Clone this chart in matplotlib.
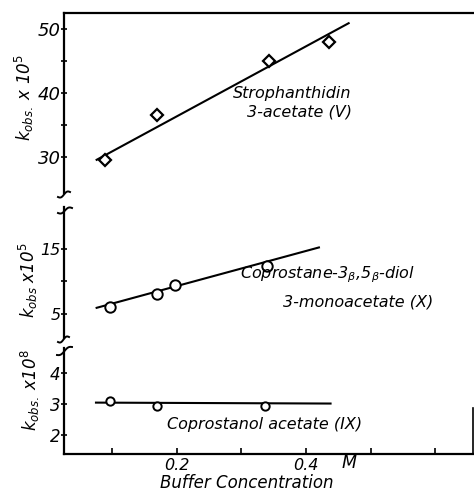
import numpy as np
import matplotlib
matplotlib.use("Agg")
import matplotlib.pyplot as plt
from matplotlib.lines import Line2D

plt.rcParams['font.family'] = ['DejaVu Sans']
plt.rcParams['mathtext.fontset'] = 'dejavusans'

# ---- data ----
# Strophanthidin 3-acetate (V), k_obs x 10^5
conc_V = [0.089, 0.170, 0.342, 0.436]
k_V = [29.4, 36.5, 45.0, 47.9]
fit_V_x = [0.076, 0.466]
fit_V_y = [29.5, 50.9]

# Coprostane-3b,5b-diol 3-monoacetate (X), k_obs x 10^5
conc_X = [0.096, 0.170, 0.197, 0.340]
k_X = [6.1, 8.1, 9.4, 12.4]
fit_X_x = [0.076, 0.420]
fit_X_y = [5.9, 15.3]

# Coprostanol acetate (IX), k_obs x 10^8
conc_IX = [0.096, 0.169, 0.337]
k_IX = [3.1, 2.92, 2.92]
fit_IX_x = [0.075, 0.438]
fit_IX_y = [3.04, 3.01]

x_ticks = [0.1, 0.2, 0.3, 0.4, 0.5, 0.6]
x_ticklabels = ['', '0.2', '', '0.4', '', '']
top_ticks = [30, 35, 40, 45, 50]
top_ticklabels = ['30', '', '40', '', '50']
mid_ticks = [5, 10, 15]
mid_ticklabels = ['5', '', '15']
bot_ticks = [2, 3, 4]
bot_ticklabels = ['2', '3', '4']

W, H = 474, 491
fig = plt.figure(figsize=(W / 100, H / 100), dpi=100)


def fr(x0, y_top, y_bot):
    return [x0 / W, 1 - y_bot / H, (W - x0) / W, (y_bot - y_top) / H]


XL = (0.0255, 0.660)
ax1 = fig.add_axes(fr(64, 13, 193))
ax2 = fig.add_axes(fr(64, 207, 338))
ax3 = fig.add_axes(fr(64, 348, 453.5))

for ax in (ax1, ax2, ax3):
    ax.set_xlim(*XL)
    ax.patch.set_alpha(0)
    for s in ('right', 'bottom', 'top'):
        ax.spines[s].set_visible(False)
    ax.spines['left'].set_linewidth(1.6)
    ax.tick_params(axis='y', direction='inout', length=5, width=1.2, pad=0)

ax1.spines['top'].set_visible(True)
ax1.spines['top'].set_linewidth(1.6)
ax3.spines['bottom'].set_visible(True)
ax3.spines['bottom'].set_linewidth(1.6)

ax1.set_ylim(24.3, 52.5)
ax2.set_ylim(1.2, 21.6)
ax3.set_ylim(1.4, 4.8)

ax1.set_xticks([])
ax2.set_xticks([])
ax3.set_xticks(x_ticks)
ax3.set_xticklabels(x_ticklabels, fontsize=11.5, fontstyle='italic')
ax3.tick_params(axis='x', direction='in', length=4, width=1.2, pad=3)

for ax, t, tl, fs in ((ax1, top_ticks, top_ticklabels, 13),
                      (ax2, mid_ticks, mid_ticklabels, 11.5),
                      (ax3, bot_ticks, bot_ticklabels, 12)):
    ax.set_yticks(t)
    ax.set_yticklabels(tl, fontsize=fs, fontstyle='italic')

# data
ax1.plot(fit_V_x, fit_V_y, color='black', lw=1.5, zorder=2)
ax1.plot(conc_V, k_V, linestyle='none', marker='D', ms=6.5, mfc='white',
         mec='black', mew=1.6, zorder=3)
ax2.plot(fit_X_x, fit_X_y, color='black', lw=1.5, zorder=2)
ax2.plot(conc_X, k_X, linestyle='none', marker='o', ms=7.5, mfc='white',
         mec='black', mew=1.4, zorder=3)
ax3.plot(fit_IX_x, fit_IX_y, color='black', lw=1.5, zorder=2)
ax3.plot(conc_IX, k_IX, linestyle='none', marker='o', ms=6, mfc='white',
         mec='black', mew=1.4, zorder=3)

# annotations
tkw = dict(fontstyle='italic', fontsize=11.5, ha='left', va='center')
ax1.text(0.287, 39.9, 'Strophanthidin', **tkw)
ax1.text(0.309, 37.0, '3-acetate (V)', **tkw)
ax2.text(0.298, 11.0, r'Coprostane-3$_\beta$,5$_\beta$-diol', **tkw)
ax2.text(0.365, 6.8, '3-monoacetate (X)', **tkw)
ax3.text(0.185, 2.35, 'Coprostanol acetate (IX)', **tkw)
ax3.text(0.466, 1.4, 'M', fontstyle='italic', fontsize=12.5, ha='center',
         va='top', transform=ax3.transData)

fig.text(247 / W, 1 - 483 / H, 'Buffer Concentration', fontstyle='italic',
         fontsize=12, ha='center', va='center')

# y labels
ykw = dict(rotation=90, ha='center', va='center', fontsize=12,
           fontstyle='italic')
fig.text(24 / W, 1 - 98 / H, r'$k_{obs.}$ x 10$^{5}$', **ykw)
fig.text(28 / W, 1 - 280 / H, r'$k_{obs}$ x10$^{5}$', **ykw)
fig.text(30 / W, 1 - 390 / H, r'$k_{obs.}$ x10$^{8}$', **ykw)


# axis break squiggles (pixel geometry)
def squiggle(x0, x1, y0, y1):
    t = np.linspace(0, 1, 30)
    xs = x0 + (x1 - x0) * t
    ys = y0 + (y1 - y0) * t + 1.6 * np.sin(2 * np.pi * t)
    fig.add_artist(Line2D(xs / W, 1 - ys / H, color='black', lw=1.4))


squiggle(58, 70, 197, 192)
squiggle(58, 72, 213, 208)
squiggle(58, 69, 342, 337)
squiggle(57, 72, 355, 347)

# right edge mark of the original scan
fig.add_artist(Line2D([472.5 / W, 472.5 / W], [1 - 408 / H, 1 - 453 / H],
                      color='black', lw=1.2))

fig.savefig('out.png', dpi=100)
